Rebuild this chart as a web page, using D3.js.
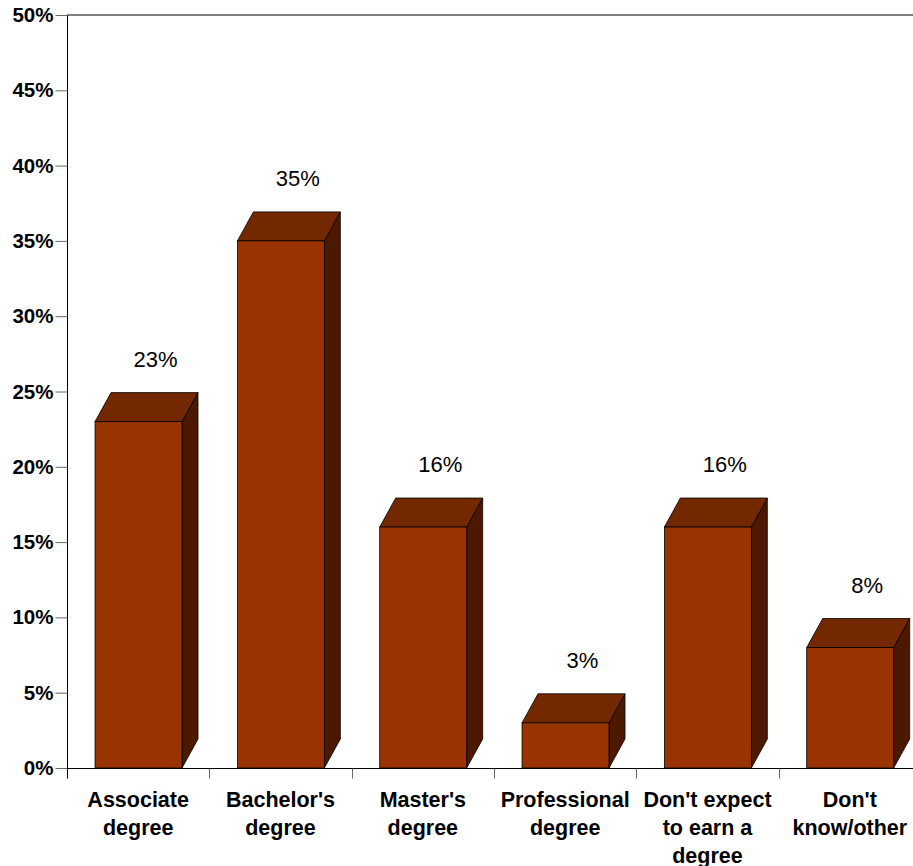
<!DOCTYPE html>
<html>
<head>
<meta charset="utf-8">
<script src="https://cdn.jsdelivr.net/npm/d3@7"></script>
<style>
  html, body { margin: 0; padding: 0; background: #fff; }
  svg { display: block; }
</style>
</head>
<body>
<svg id="chart" width="913" height="866"></svg>
<script>
const categories = [
  ["Associate", "degree"],
  ["Bachelor's", "degree"],
  ["Master's", "degree"],
  ["Professional", "degree"],
  ["Don't expect", "to earn a", "degree"],
  ["Don't", "know/other"]
];
const values = [0.23, 0.35, 0.16, 0.03, 0.16, 0.08];
const valueLabels = ["23%", "35%", "16%", "3%", "16%", "8%"];
const yTicks = [0, 0.05, 0.10, 0.15, 0.20, 0.25, 0.30, 0.35, 0.40, 0.45, 0.50];

const FONT = "'Liberation Sans', Arial, Helvetica, sans-serif";
const svg = d3.select("#chart");

const plot = { left: 67, right: 921, top: 15, bottom: 768 };
const depthX = 16, depthY = 29;

const x = d3.scaleBand()
  .domain(d3.range(categories.length))
  .range([plot.left, plot.right])
  .paddingInner(0).paddingOuter(0);

const y = d3.scaleLinear().domain([0, 0.5]).range([plot.bottom, plot.top]);

const bw = x.bandwidth();
const frontOffset = bw * 0.197;
const frontWidth = bw * 0.611;

// top border
svg.append("line")
  .attr("x1", plot.left).attr("x2", plot.right)
  .attr("y1", plot.top).attr("y2", plot.top)
  .attr("stroke", "#000").attr("stroke-width", 1);

// y axis
const yAxis = d3.axisLeft(y)
  .tickValues(yTicks)
  .tickFormat(d3.format(".0%"))
  .tickSize(12)
  .tickPadding(2);
const yg = svg.append("g")
  .attr("transform", `translate(${plot.left + 0.5},0)`)
  .call(yAxis);
yg.select(".domain").attr("stroke", "#000").attr("d", `M0,${plot.top}V${plot.bottom + 10}`);
yg.selectAll(".tick line").attr("stroke", "#666");
yg.selectAll(".tick text")
  .attr("font-family", FONT).attr("font-size", 20.5).attr("font-weight", "bold")
  .attr("fill", "#000");

// x axis
const xg = svg.append("g")
  .attr("transform", `translate(0,${plot.bottom + 0.5})`);
xg.append("line")
  .attr("x1", plot.left).attr("x2", plot.right)
  .attr("y1", 0).attr("y2", 0).attr("stroke", "#000");
xg.selectAll("line.tk")
  .data(d3.range(categories.length + 1))
  .join("line")
  .attr("class", "tk")
  .attr("x1", i => Math.round(plot.left + i * bw) + 0.5)
  .attr("x2", i => Math.round(plot.left + i * bw) + 0.5)
  .attr("y1", 0).attr("y2", 10)
  .attr("stroke", i => i === 0 ? "#000" : "#666");

// bars
const bars = svg.append("g").selectAll("g.bar")
  .data(values.map((v, i) => ({ v, i })))
  .join("g").attr("class", "bar");

bars.each(function(d) {
  const g = d3.select(this);
  const x0 = x(d.i) + frontOffset;
  const x1 = x0 + frontWidth;
  const yt = y(d.v);
  const yb = y(0);
  // side face
  g.append("path")
    .attr("d", `M${x1},${yt}L${x1 + depthX},${yt - depthY}L${x1 + depthX},${yb - depthY}L${x1},${yb}Z`)
    .attr("fill", "#4c1900").attr("stroke", "#000").attr("stroke-width", 0.8);
  // top face
  g.append("path")
    .attr("d", `M${x0},${yt}L${x0 + depthX},${yt - depthY}L${x1 + depthX},${yt - depthY}L${x1},${yt}Z`)
    .attr("fill", "#732800").attr("stroke", "#000").attr("stroke-width", 0.8);
  // front face
  g.append("rect")
    .attr("x", x0).attr("y", yt)
    .attr("width", frontWidth).attr("height", yb - yt)
    .attr("fill", "#993300").attr("stroke", "#000").attr("stroke-width", 0.8);
  // value label
  g.append("text")
    .attr("x", x0 + depthX + frontWidth / 2 + 1)
    .attr("y", yt - depthY - 26)
    .attr("text-anchor", "middle")
    .attr("font-family", FONT).attr("font-size", 22)
    .attr("fill", "#000")
    .text(valueLabels[d.i]);
});

// category labels
const cl = svg.append("g").selectAll("text.cat")
  .data(categories)
  .join("text")
  .attr("class", "cat")
  .attr("x", (d, i) => x(i) + bw / 2)
  .attr("y", 807)
  .attr("text-anchor", "middle")
  .attr("font-family", FONT).attr("font-size", 21.5).attr("font-weight", "bold")
  .attr("fill", "#000");
cl.selectAll("tspan")
  .data(d => d)
  .join("tspan")
  .attr("x", function() { return d3.select(this.parentNode).attr("x"); })
  .attr("dy", (d, j) => j === 0 ? 0 : 28)
  .text(d => d);
</script>
</body>
</html>
